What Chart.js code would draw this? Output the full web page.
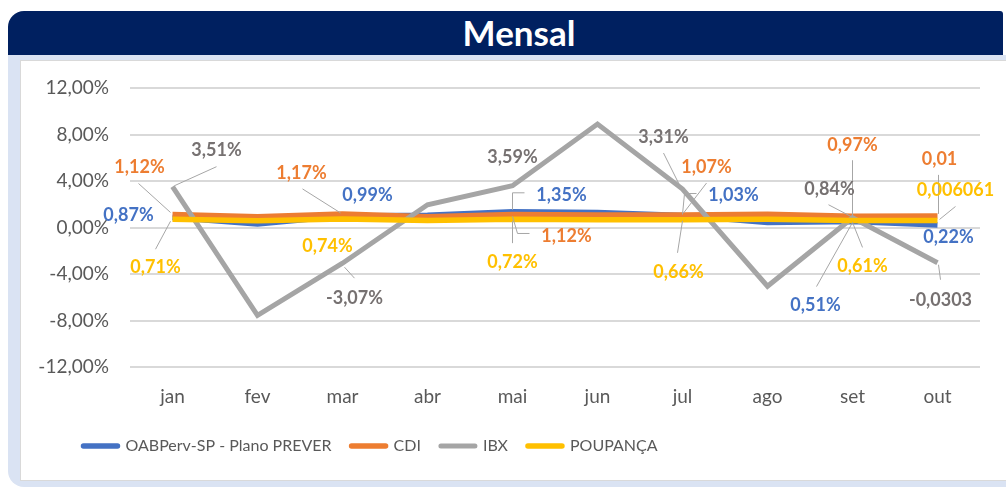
<!DOCTYPE html>
<html>
<head>
<meta charset="utf-8">
<script src="https://cdn.jsdelivr.net/npm/chart.js@4.4.0/dist/chart.umd.min.js"></script>
<style>
  body { margin: 0; width: 1006px; height: 487px; overflow: hidden; background: #fff; font-family: Lato, sans-serif; }
  #frame { position: absolute; left: 8px; top: 55px; width: 998px; height: 432px; background: #dae3f3; border-bottom-left-radius: 16px; }
  #banner { position: absolute; left: 8px; top: 11px; width: 995px; height: 44px; background: #002060; border-top-left-radius: 16px; border-top-right-radius: 3px; }
  #title { position: absolute; left: 0; top: 11px; width: 1038px; height: 44px; line-height: 46px; text-align: center; color: #fff; font: bold 35px Lato, sans-serif; }
  #panel { position: absolute; left: 20px; top: 60px; width: 986px; height: 421px; background: #fff; border: 1px solid #d9d9d9; border-right: none; box-sizing: border-box; }
  #chart { position: absolute; left: 0; top: 0; }
</style>
</head>
<body>
<div id="frame"></div>
<div id="banner"></div>
<div id="title">Mensal</div>
<div id="panel"><canvas id="chart" width="985" height="419"></canvas></div>

<script>
// meses
const months = ['jan', 'fev', 'mar', 'abr', 'mai', 'jun', 'jul', 'ago', 'set', 'out'];

// rentabilidade mensal em %
const oabprev = [0.87, 0.30, 0.99, 1.05, 1.35, 1.30, 1.03, 0.43, 0.51, 0.22];
const cdi = [1.12, 0.92, 1.17, 0.92, 1.12, 1.07, 1.07, 1.14, 0.97, 1.00];
const ibx = [3.51, -7.55, -3.07, 1.96, 3.59, 8.90, 3.31, -5.05, 0.84, -3.03];
const poupanca = [0.71, 0.59, 0.74, 0.60, 0.72, 0.67, 0.66, 0.71, 0.61, 0.6061];

const yTicks = [-12, -8, -4, 0, 4, 8, 12];

const seriesNames = ['OABPerv-SP - Plano PREVER', 'CDI', 'IBX', 'POUPANÇA'];
const seriesColors = ['#4472c4', '#ed7d31', '#a5a5a5', '#ffc000'];
const labelColors = ['#4472c4', '#ed7d31', '#767171', '#ffc000'];

// rotulos: [serie, mes, dx, dy, linha de chamada (offsets do ponto), formato]
const labelSpots = [
  [0, 0, -44, -2, null],
  [1, 0, -33, -47, [[-34, -31], [-2, -2]]],
  [2, 0, 44, -37, [[44, -20], [2, -1]]],
  [3, 0, -17, 48, [[-17, 30], [-2, 2]]],
  [1, 2, -41, -41, [[-40, -25], [-2, -1]]],
  [0, 2, 25, -21, null],
  [3, 2, -15, 27, null],
  [2, 2, 12, 35, [[2, 4], [12, 15]]],
  [2, 4, 0, -29, null],
  [0, 4, 49, -17, [[12, -19], [0, -19], [0, -2]]],
  [1, 4, 54, 22, [[17, 19], [5, 19], [0, 2]]],
  [3, 4, 0, 43, [[0, 24], [0, 2]]],
  [2, 6, -19, -52, [[-19, -36], [-2, -2]]],
  [1, 6, 24, -48, [[24, -32], [1, -2]]],
  [0, 6, 51, -20, [[14, -22], [2, -22], [0, -1]]],
  [3, 6, -4, 52, [[-5, 33], [0, 1]]],
  [1, 8, 0, -71, [[0, -56], [0, -1]]],
  [2, 8, -23, -29, [[-24, -13], [-1, -1]]],
  [3, 8, 10, 46, [[10, 27], [0, 2]]],
  [0, 8, -37, 84, [[-36, 65], [0, 1]]],
  [1, 9, 2, -57, [[1, -41], [1, -2]], 'raw'],
  [3, 9, 18, -30, [[18, -14], [2, -1]], 'raw'],
  [0, 9, 11, 12, null],
  [2, 9, 3, 37, [[1, 2], [3, 17]], 'raw']
];

function pct(v) {
  return v.toFixed(2).replace('.', ',') + '%';
}
function rawNum(v) {
  return String(+(v / 100).toPrecision(6)).replace('.', ',');
}

const dataLabels = {
  id: 'dataLabels',
  afterDatasetsDraw(chart) {
    const ctx = chart.ctx;
    ctx.save();
    ctx.strokeStyle = '#a6a6a6';
    ctx.lineWidth = 1;
    labelSpots.forEach(s => {
      const [ds, i, dx, dy, leader, fmt] = s;
      const pt = chart.getDatasetMeta(ds).data[i];
      if (leader) {
        ctx.beginPath();
        leader.forEach((p, k) => {
          if (k === 0) ctx.moveTo(pt.x + p[0], pt.y + p[1]);
          else ctx.lineTo(pt.x + p[0], pt.y + p[1]);
        });
        ctx.stroke();
      }
      const v = chart.data.datasets[ds].data[i];
      ctx.font = 'bold 18px Lato, sans-serif';
      ctx.fillStyle = labelColors[ds];
      ctx.textAlign = 'center';
      ctx.textBaseline = 'middle';
      ctx.fillText(fmt === 'raw' ? rawNum(v) : pct(v), pt.x + dx, pt.y + dy);
    });
    ctx.restore();
  }
};

// legenda fica deslocada para a esquerda como no original
const moveLegend = {
  id: 'moveLegend',
  afterLayout(chart) {
    chart.legend.left -= 130;
    chart.legend.right -= 130;
  }
};

const seriesData = [oabprev, cdi, ibx, poupanca];

new Chart(document.getElementById('chart'), {
  type: 'line',
  data: {
    labels: months,
    datasets: seriesData.map((d, k) => ({
      label: seriesNames[k],
      data: d,
      borderColor: seriesColors[k],
      backgroundColor: seriesColors[k],
      borderWidth: k === 2 ? 5 : 5.5,
      pointRadius: 0,
      tension: 0,
      order: 4 - k
    }))
  },
  options: {
    responsive: false,
    devicePixelRatio: 1,
    animation: false,
    layout: { padding: { left: 0, right: 26, top: 27, bottom: 16 } },
    scales: {
      x: {
        offset: true,
        grid: { display: false, drawTicks: false },
        border: { display: false },
        ticks: { color: '#595959', font: { family: 'Lato', size: 19 }, padding: 18 },
        afterFit(s) { s.height = 51; }
      },
      y: {
        min: -12,
        max: 12,
        afterBuildTicks(s) { s.ticks = yTicks.map(v => ({ value: v })); },
        grid: { color: '#d9d9d9', lineWidth: 2, drawTicks: false },
        border: { display: false },
        ticks: { color: '#595959', font: { family: 'Lato', size: 19 }, padding: 21, callback: v => pct(v) },
        afterFit(s) {
          s.width = 109;
          s.paddingTop = 0;
          s.paddingBottom = 0;
        }
      }
    },
    plugins: {
      tooltip: { enabled: false },
      legend: {
        position: 'bottom',
        labels: {
          color: '#595959',
          font: { family: 'Lato', size: 16 },
          padding: 20,
          usePointStyle: true,
          pointStyle: 'line',
          pointStyleWidth: 34,
          boxHeight: 16,
          sort: (a, b) => a.datasetIndex - b.datasetIndex,
          generateLabels(chart) {
            return Chart.defaults.plugins.legend.labels.generateLabels(chart).map(it => {
              it.lineCap = 'round';
              it.pointStyle = 'line';
              return it;
            });
          }
        }
      }
    }
  },
  plugins: [dataLabels, moveLegend]
});
</script>
</body>
</html>
